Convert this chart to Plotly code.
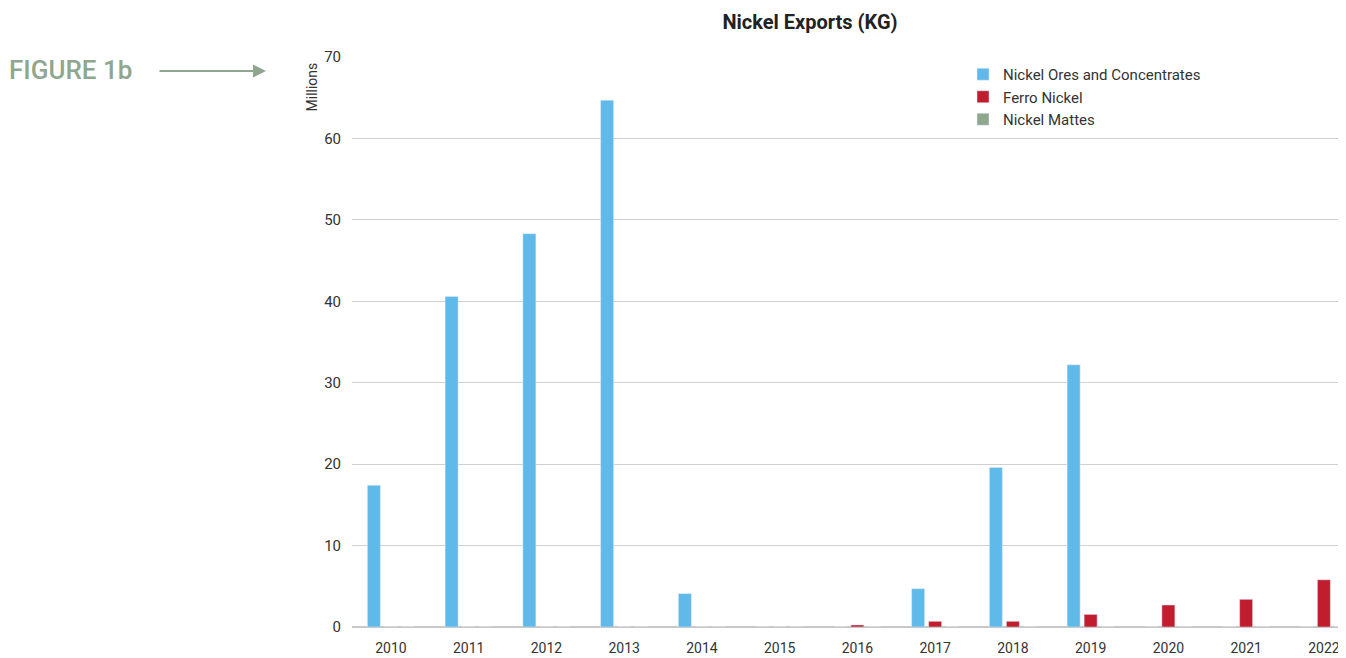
import plotly.graph_objects as go

years = ["2010", "2011", "2012", "2013", "2014", "2015", "2016", "2017", "2018", "2019", "2020", "2021", "2022"]
ores = [17.4, 40.6, 48.3, 64.7, 4.1, 0, 0, 4.7, 19.6, 32.2, 0, 0, 0]
ferro = [0, 0, 0, 0, 0, 0, 0.25, 0.7, 0.7, 1.55, 2.7, 3.4, 5.8]
mattes = [0, 0, 0, 0, 0, 0, 0, 0, 0, 0, 0, 0, 0]

fig = go.Figure()
fig.add_trace(go.Bar(x=years, y=ores, name="Nickel Ores and Concentrates", marker_color="#5FB9E9"))
fig.add_trace(go.Bar(x=years, y=ferro, name="Ferro Nickel", marker_color="#C01E2E"))
fig.add_trace(go.Bar(x=years, y=mattes, name="Nickel Mattes", marker_color="#8FA68F"))

OFF = 8  # page body margin
W, H = 1346 - OFF, 658 - OFF
L, R, T, B = 352 - OFF, 1343 - OFF, 57 - OFF, 627.5 - OFF
PW, PH = R - L, B - T
STEP = 77.75
XMAX = -0.5 + PW / STEP


def px(xpix):
    return (xpix - OFF - L) / PW


def py(ypix):
    return (B - (ypix - OFF)) / PH


fig.update_layout(
    width=W, height=H,
    margin=dict(l=L, r=W - R, t=T, b=H - B, pad=0),
    paper_bgcolor="white", plot_bgcolor="white",
    barmode="group", bargap=0.344, bargroupgap=0.235,
    font=dict(family="Roboto, Arial, sans-serif", size=15, color="#333333"),
    title=dict(text="<b>Nickel Exports (KG)</b>", x=(810 - OFF) / W, xanchor="center",
               y=1 - (22 - OFF) / H, yanchor="middle", font=dict(size=20, color="#222222")),
    showlegend=True,
    legend=dict(x=px(963), xanchor="left", y=py(58), yanchor="top", bgcolor="rgba(0,0,0,0)",
                font=dict(size=15, color="#333333"), tracegroupgap=0, itemwidth=30),
    xaxis=dict(type="category", range=[-0.5, XMAX], showgrid=False, showline=False, automargin=False,
               ticks="", ticklabelstandoff=11, tickfont=dict(size=14, color="#333333"), zeroline=False),
    yaxis=dict(range=[0, 70], dtick=10, showgrid=True, gridcolor="#D0D0D0", gridwidth=1,
               zeroline=True, zerolinecolor="#C8C8C8", zerolinewidth=2, automargin=False,
               showline=False, ticks="", ticklabelstandoff=10,
               tickfont=dict(size=15, color="#333333")),
    annotations=[
        dict(text="Millions", textangle=-90, xref="paper", yref="paper",
             x=px(312), y=py(61), xanchor="center", yanchor="top",
             showarrow=False, font=dict(size=14, color="#333333")),
        dict(text="FIGURE 1b", xref="paper", yref="paper",
             x=px(7), y=py(70), xanchor="left", yanchor="middle",
             showarrow=False, font=dict(size=26, color="#8FA68F", family="Roboto, sans-serif", weight=500)),
        dict(text="", xref="paper", yref="paper",
             x=px(266), y=py(71),
             ax=-108, ay=0, axref="pixel", ayref="pixel",
             showarrow=True, arrowhead=2, arrowsize=1.3, arrowwidth=2, arrowcolor="#8FA68F"),
    ],
)

fig.write_html("out.html")
